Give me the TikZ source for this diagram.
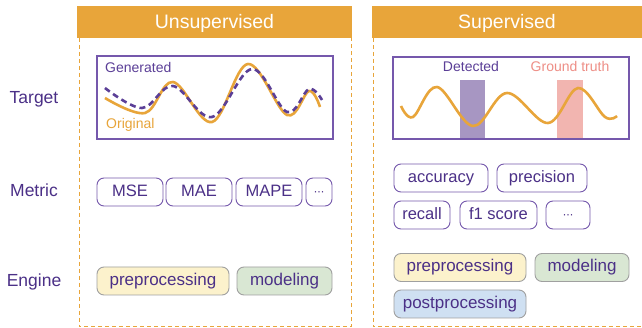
\documentclass[tikz,border=0pt]{standalone}
\usepackage{fontspec}
\setmainfont{Liberation Sans}
\definecolor{orng}{HTML}{E8A53A}
\definecolor{ptext}{HTML}{4B3087}
\definecolor{pline}{HTML}{7558AC}
\definecolor{pwave}{HTML}{5B3F97}
\definecolor{detbar}{HTML}{A796C2}
\definecolor{gtbar}{HTML}{F2B5B0}
\definecolor{gttext}{HTML}{EE8E86}
\definecolor{engy}{HTML}{FCF2CC}
\definecolor{engg}{HTML}{D9E7D3}
\definecolor{engb}{HTML}{CFE0F2}
\definecolor{engborder}{HTML}{A0A0A0}
\tikzset{
  hdr/.style={fill=orng, draw=none},
  hdrtext/.style={text=white, font=\fontsize{19.5}{20}\selectfont, inner sep=0pt, text height=14pt, text depth=0pt},
  rowlabel/.style={text=ptext, font=\fontsize{17.5}{18}\selectfont, inner sep=0pt, anchor=base},
  colbox/.style={draw=orng, dash pattern=on 4pt off 3pt, line width=1pt},
  tgtbox/.style={draw=pline, line width=1.2pt},
  metricbox/.style={draw=pline, line width=0.9pt, rounded corners=7pt, text=ptext, font=\fontsize{16.5}{17}\selectfont, inner sep=0pt, minimum height=28pt, text height=12pt, text depth=3pt},
  enginebox/.style={draw=engborder, line width=0.9pt, rounded corners=7pt, text=ptext, font=\fontsize{17}{18}\selectfont, inner sep=0pt, minimum height=28pt, text height=12pt, text depth=3pt},
  smalllabel/.style={font=\fontsize{14}{15}\selectfont, inner sep=0pt, text height=10pt, text depth=3pt},
  origwave/.style={draw=orng, line width=2.6pt},
  genwave/.style={draw=pwave, line width=2.6pt, dash pattern=on 6pt off 4pt},
}
\newcommand{\mydots}{{\fontsize{12}{12}\selectfont\raisebox{0.5pt}{\textperiodcentered\kern-0.5pt\textperiodcentered\kern-0.5pt\textperiodcentered}}}
\begin{document}
\begin{tikzpicture}[x=1pt, y=-1pt]
\clip (0,0) rectangle (642,328);
\fill[white] (0,0) rectangle (642,328);

% column frames
\draw[colbox] (79,38) rectangle (351,327);
\draw[colbox] (373,38) rectangle (660,327);
\fill[hdr] (77,6) rectangle (352,38);
\fill[hdr] (372,6) rectangle (660,38);
\node[hdrtext] (hU) at (214.5,22) {Unsupervised};
\node[hdrtext] (hS) at (507,22) {Supervised};

% row labels
\node[rowlabel] (lT) at (34,104) {Target};
\node[rowlabel] (lM) at (34,197) {Metric};
\node[rowlabel] (lE) at (34,287) {Engine};

% unsupervised target
\draw[tgtbox] (97,56) rectangle (333,139);
\draw[origwave] plot[smooth, tension=0.6] coordinates {(105,98) (145,113) (173,82) (212,122) (248,64) (287,115) (309,91) (320,107)};
\draw[genwave] plot[smooth, tension=0.6] coordinates {(105,88) (142,108) (173,86) (212,117) (252,69) (287,112) (309,89) (322,100)};
\node[smalllabel, text=pwave, anchor=west] (gen) at (105,69) {Generated};
\node[smalllabel, text=orng, anchor=west] (orig) at (106,125) {Original};

% supervised target
\draw[tgtbox] (393,57) rectangle (629,139);
\fill[detbar] (460,80) rectangle (485,138);
\fill[gtbar] (557,80) rectangle (583,138);
\draw[origwave] plot[smooth, tension=0.6] coordinates {(401,106) (413,117) (437,87) (473,126) (507,93) (548,123) (578,88) (605,117) (617,116)};
\node[smalllabel, text=pwave] (det) at (471,68) {Detected};
\node[smalllabel, text=gttext] (gt) at (570,68) {Ground truth};

% unsupervised metrics
\node[metricbox, minimum width=66pt] (mse) at (130,192) {MSE};
\node[metricbox, minimum width=66pt] (mae) at (199,192) {MAE};
\node[metricbox, minimum width=66pt] (mape) at (269,192) {MAPE};
\node[metricbox, minimum width=26pt] (mdots) at (319,192) {\mydots};

% supervised metrics
\node[metricbox, minimum width=94pt] (acc) at (441,178) {accuracy};
\node[metricbox, minimum width=90pt] (prec) at (542,178) {precision};
\node[metricbox, minimum width=56pt] (rec) at (422,215) {recall};
\node[metricbox, minimum width=77pt] (f1) at (498.5,215) {f1 score};
\node[metricbox, minimum width=44pt] (sdots) at (568,215) {\mydots};

% engines
\node[enginebox, fill=engy, minimum width=132pt] (pre1) at (163,281) {preprocessing};
\node[enginebox, fill=engg, minimum width=95pt] (mod1) at (284.5,281) {modeling};
\node[enginebox, fill=engy, minimum width=132pt] (pre2) at (460,267.5) {preprocessing};
\node[enginebox, fill=engg, minimum width=94pt] (mod2) at (582,267.5) {modeling};
\node[enginebox, fill=engb, minimum width=132pt] (post2) at (460,304) {postprocessing};
\end{tikzpicture}
\end{document}
